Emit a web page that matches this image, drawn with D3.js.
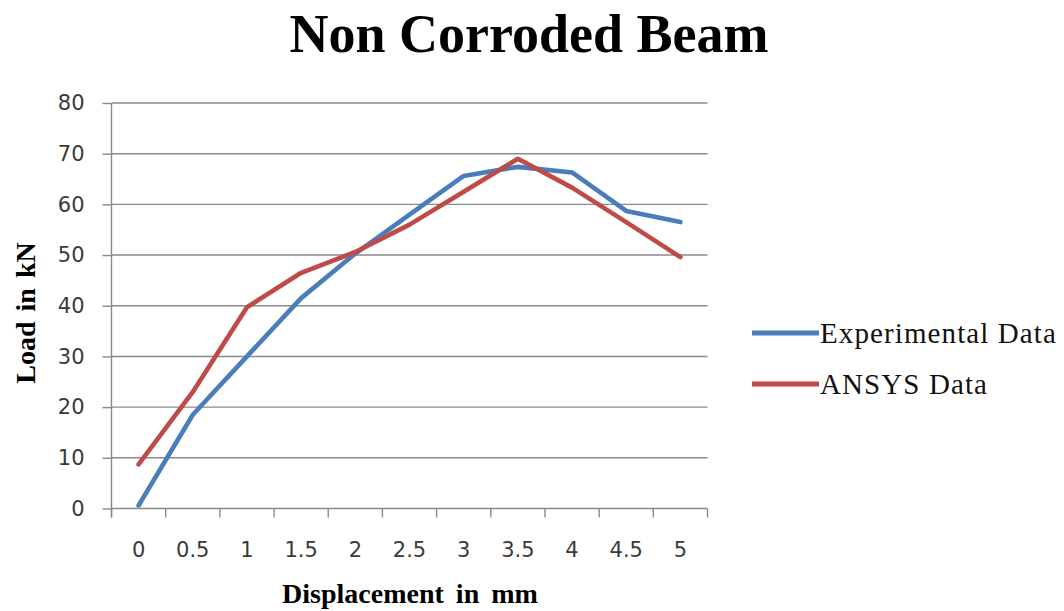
<!DOCTYPE html>
<html>
<head>
<meta charset="utf-8">
<script src="https://cdn.jsdelivr.net/npm/d3@7"></script>
<style>
  html, body { margin: 0; padding: 0; background: #fff; }
  svg { display: block; }
</style>
</head>
<body>
<svg id="chart" width="1064" height="611"></svg>
<script>
// Load–displacement response of the non-corroded beam
const displacement = ["0", "0.5", "1", "1.5", "2", "2.5", "3", "3.5", "4", "4.5", "5"];
const experimental = [0.6, 18.5, 30, 41.5, 50.3, 58, 65.6, 67.4, 66.3, 58.7, 56.5];
const ansys = [8.7, 23, 39.7, 46.5, 50.6, 56, 62.5, 69, 63.3, 56.5, 49.6];
const loadTicks = [0, 10, 20, 30, 40, 50, 60, 70, 80];

const seriesList = [
  { name: "Experimental Data", values: experimental, color: "#4a7ebb" },
  { name: "ANSYS Data", values: ansys, color: "#be4b48" }
];

const svg = d3.select("#chart");
const plot = { left: 111.5, right: 707.5, top: 103, bottom: 508.5 };

const x = d3.scaleBand().domain(displacement).range([plot.left, plot.right]).padding(0);
const y = d3.scaleLinear().domain([0, 80]).range([plot.bottom, plot.top]);

const gridColor = "#8a8a8a";

// horizontal gridlines
svg.append("g")
  .selectAll("line")
  .data(loadTicks.filter(d => d > 0))
  .join("line")
  .attr("x1", plot.left).attr("x2", plot.right)
  .attr("y1", d => y(d)).attr("y2", d => y(d))
  .attr("stroke", gridColor).attr("stroke-width", 1.4);

// y axis with outside ticks
const yAxis = svg.append("g")
  .attr("transform", `translate(${plot.left},0)`)
  .call(d3.axisLeft(y).tickValues(loadTicks).tickSize(9).tickPadding(18));
yAxis.select(".domain").attr("stroke", gridColor).attr("stroke-width", 1.4)
  .attr("d", `M0,${plot.top}V${plot.bottom + 9}`);
yAxis.selectAll(".tick line").attr("stroke", gridColor).attr("stroke-width", 1.4);
yAxis.selectAll(".tick text")
  .attr("font-family", "DejaVu Sans, Verdana, sans-serif")
  .attr("font-size", 21).attr("fill", "#3a3a3a");

// x axis: labels at category centres, tick marks between categories
const xAxis = svg.append("g")
  .attr("transform", `translate(0,${plot.bottom})`)
  .call(d3.axisBottom(x).tickSize(0).tickPadding(34));
xAxis.select(".domain").attr("stroke", gridColor).attr("stroke-width", 1.4)
  .attr("d", `M${plot.left},0H${plot.right}`);
xAxis.selectAll(".tick text")
  .attr("font-family", "DejaVu Sans, Verdana, sans-serif")
  .attr("font-size", 21).attr("fill", "#3a3a3a");
const boundaries = displacement.map(c => x(c)).concat([plot.right]);
xAxis.append("g").selectAll("line")
  .data(boundaries)
  .join("line")
  .attr("x1", d => d).attr("x2", d => d)
  .attr("y1", 0).attr("y2", 9)
  .attr("stroke", gridColor).attr("stroke-width", 1.4);

// series lines
const line = d3.line()
  .x((d, i) => x(displacement[i]) + x.bandwidth() / 2)
  .y(d => y(d));

svg.append("g")
  .selectAll("path")
  .data(seriesList)
  .join("path")
  .attr("d", s => line(s.values))
  .attr("fill", "none")
  .attr("stroke", s => s.color)
  .attr("stroke-width", 4.6)
  .attr("stroke-linejoin", "round")
  .attr("stroke-linecap", "round");

// title
svg.append("text")
  .attr("x", 529).attr("y", 52)
  .attr("text-anchor", "middle")
  .attr("font-family", "Liberation Serif, Times New Roman, serif")
  .attr("font-weight", "bold").attr("font-size", 54)
  .attr("fill", "#000")
  .text("Non Corroded Beam");

// axis titles
svg.append("text")
  .attr("x", 410).attr("y", 603)
  .attr("text-anchor", "middle")
  .attr("font-family", "Liberation Serif, Times New Roman, serif")
  .attr("font-weight", "bold").attr("font-size", 28)
  .attr("word-spacing", 5)
  .text("Displacement in mm");

svg.append("text")
  .attr("transform", "translate(35,313) rotate(-90)")
  .attr("text-anchor", "middle")
  .attr("font-family", "Liberation Serif, Times New Roman, serif")
  .attr("font-weight", "bold").attr("font-size", 28)
  .attr("word-spacing", 3)
  .text("Load in kN");

// legend
const legend = svg.append("g");
const legendRows = legend.selectAll("g")
  .data(seriesList)
  .join("g")
  .attr("transform", (d, i) => `translate(752,${333 + i * 51})`);
legendRows.append("line")
  .attr("x1", 0).attr("x2", 67).attr("y1", 0).attr("y2", 0)
  .attr("stroke", d => d.color).attr("stroke-width", 5);
legendRows.append("text")
  .attr("x", 68).attr("y", 10)
  .attr("font-family", "Liberation Serif, Times New Roman, serif")
  .attr("font-size", 29).attr("letter-spacing", 1.1)
  .attr("fill", "#111")
  .text(d => d.name);
</script>
</body>
</html>
